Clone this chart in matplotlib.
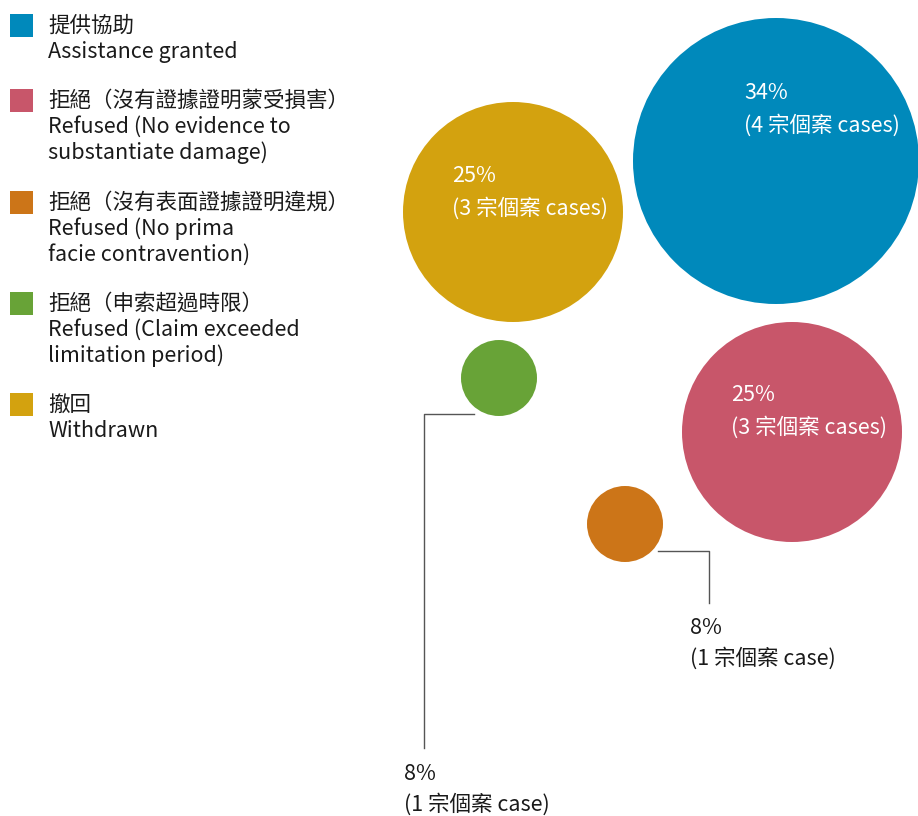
import matplotlib

matplotlib.use("Agg")
import matplotlib.pyplot as plt
from matplotlib.patches import Circle, Rectangle

plt.rcParams["font.family"] = ["Noto Sans CJK TC", "DejaVu Sans"]

# data
zh_labels = ["提供協助", "拒絕（沒有證據證明蒙受損害）", "拒絕（沒有表面證據證明違規）",
             "拒絕（申索超過時限）", "撤回"]
en_labels = ["Assistance granted", "Refused (No evidence to\nsubstantiate damage)",
             "Refused (No prima\nfacie contravention)", "Refused (Claim exceeded\nlimitation period)",
             "Withdrawn"]
percents = [34, 25, 8, 8, 25]
cases = [4, 3, 1, 1, 3]
colors = ["#0089BB", "#C8566A", "#CC7518", "#68A337", "#D3A20F"]

# layout (pixel coords, origin top-left)
centers = [(776, 161), (792, 432), (625, 524), (499, 378), (513, 212)]
radii = [143, 110, 38, 38, 110]
legend_y = [14, 89, 191, 292, 393]
inner_text = {0: (744, 93), 1: (731, 395), 4: (452, 176)}
callouts = {  # leader line points, label anchor
    2: ([(658, 551), (709, 551), (709, 603)], (690, 628)),
    3: ([(474, 414), (424, 414), (424, 748)], (404, 774)),
}

W, H = 918, 816
fig = plt.figure(figsize=(W / 100, H / 100), dpi=100)
ax = fig.add_axes([0, 0, 1, 1])
ax.set_xlim(0, W)
ax.set_ylim(H, 0)
ax.set_aspect("equal")
ax.axis("off")

FS = 15.5
LH = 26
INK = "#1a1a1a"

for i in range(len(percents)):
    y0 = legend_y[i] + 12
    ax.add_patch(Rectangle((10, legend_y[i]), 23, 23, color=colors[i], lw=0))
    lines = [zh_labels[i]] + en_labels[i].split("\n")
    for k, s in enumerate(lines):
        ax.text(48, y0 + k * LH, s, fontsize=FS, va="center", color=INK)

    cx, cy = centers[i]
    ax.add_patch(Circle((cx, cy), radii[i], color=colors[i], lw=0))
    unit = "cases" if cases[i] > 1 else "case"
    if i in inner_text:
        tx, ty = inner_text[i]
        ax.text(tx, ty, f"{percents[i]}%", fontsize=FS, va="center", color="white")
        ax.text(tx, ty + 32, f"({cases[i]} 宗個案 {unit})", fontsize=FS, va="center",
                color="white")
    if i in callouts:
        pts, (tx, ty) = callouts[i]
        ax.plot([p[0] for p in pts], [p[1] for p in pts], color="#555555", lw=1)
        ax.text(tx, ty, f"{percents[i]}%", fontsize=FS, va="center", color=INK)
        ax.text(tx, ty + 30, f"({cases[i]} 宗個案 {unit})", fontsize=FS, va="center",
                color=INK)

fig.savefig("out.png", dpi=100)
